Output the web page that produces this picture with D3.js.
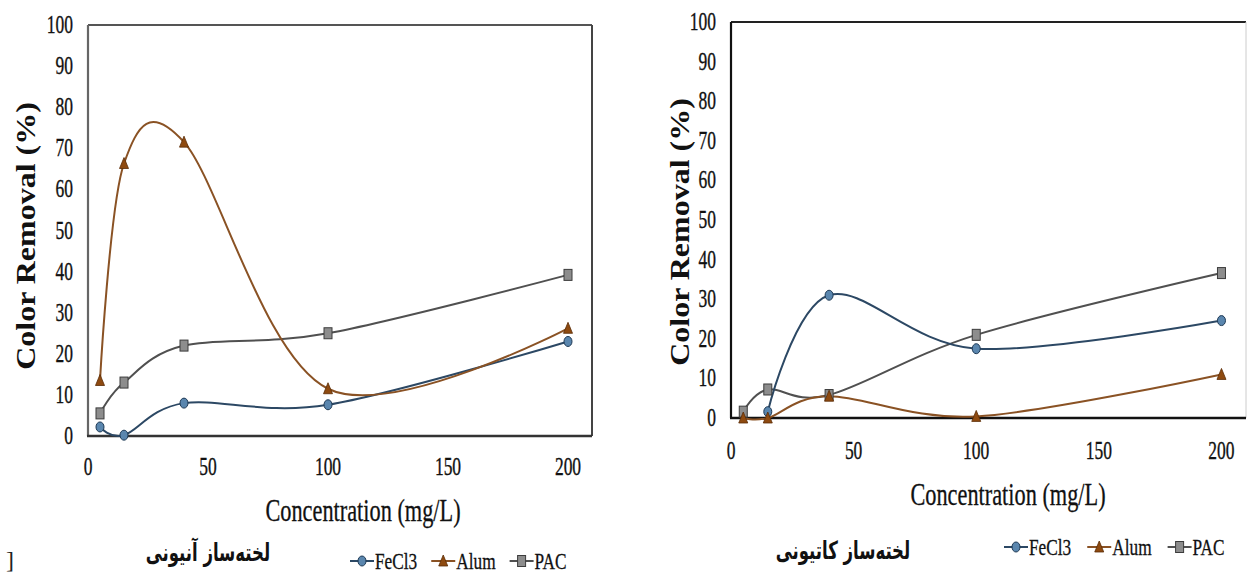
<!DOCTYPE html>
<html><head><meta charset="utf-8">
<script src="https://cdn.jsdelivr.net/npm/d3@7"></script>
<style>
html,body{margin:0;padding:0;background:#fff;}
svg{display:block;}
</style>
</head><body>
<svg id="c" width="1247" height="576"></svg>
<script>
// ---- data ----
const concentrations = [5, 15, 40, 100, 200];
const seriesNames = ["FeCl3", "Alum", "PAC"];
const xTicks = [0, 50, 100, 150, 200];
const yTicks = [0, 10, 20, 30, 40, 50, 60, 70, 80, 90, 100];

// left panel (anionic coagulant aid)
const anionicFeCl3 = [2.2, 0.2, 8.0, 7.6, 23.0];
const anionicAlum  = [13.5, 66.3, 71.5, 11.5, 26.2];
const anionicPAC   = [5.5, 13.0, 22.0, 25.0, 39.2];

// right panel (cationic coagulant aid)
const cationicFeCl3 = [null, 1.6, 31.0, 17.5, 24.6];
const cationicAlum  = [0.0, 0.0, 5.5, 0.4, 11.0];
const cationicPAC   = [1.6, 7.2, 5.8, 21.0, 36.6];

const xTitle = "Concentration (mg/L)";
const yTitle = "Color Removal (%)";
const anionicLabel = "لخته‌ساز آنیونی";
const cationicLabel = "لخته‌ساز کاتیونی";

// ---- styles ----
const styles = {
  FeCl3: {line: "#2c4864", fill: "#5a86ae", stroke: "#1e3954", shape: "circle"},
  Alum:  {line: "#8a5224", fill: "#8e4a10", stroke: "#5a2c06", shape: "triangle"},
  PAC:   {line: "#505050", fill: "#8d8d8d", stroke: "#3c3c3c", shape: "square"}
};
const SX = 0.7; // horizontal squeeze of the original picture
const serif = "'Liberation Serif','Times New Roman',serif";

const svg = d3.select("#c");

function drawMarker(g, shape, cx, cy, st) {
  if (shape === "circle") {
    g.append("ellipse").attr("cx", cx).attr("cy", cy).attr("rx", 4).attr("ry", 5)
      .attr("fill", st.fill).attr("stroke", st.stroke).attr("stroke-width", 1);
  } else if (shape === "triangle") {
    g.append("path").attr("d", `M${cx},${cy-6}L${cx+4.5},${cy+5}L${cx-4.5},${cy+5}Z`)
      .attr("fill", st.fill).attr("stroke", st.stroke).attr("stroke-width", 0.8);
  } else {
    g.append("rect").attr("x", cx-4).attr("y", cy-5.5).attr("width", 8).attr("height", 11)
      .attr("fill", st.fill).attr("stroke", st.stroke).attr("stroke-width", 1);
  }
}

function drawPanel(cfg) {
  const g = svg.append("g");
  const x = d3.scaleLinear().domain([0, 210]).range([cfg.left, cfg.right]);
  const y = d3.scaleLinear().domain([0, 100]).range([cfg.bottom, cfg.top]);

  // frame
  g.append("line").attr("x1", cfg.left).attr("x2", cfg.right).attr("y1", cfg.top).attr("y2", cfg.top)
    .attr("stroke", cfg.frameTop).attr("stroke-width", 2);
  g.append("line").attr("x1", cfg.right).attr("x2", cfg.right).attr("y1", cfg.top).attr("y2", cfg.bottom)
    .attr("stroke", cfg.frameRight).attr("stroke-width", cfg.frameRightW);
  g.append("line").attr("x1", cfg.left).attr("x2", cfg.left).attr("y1", cfg.top).attr("y2", cfg.bottom)
    .attr("stroke", cfg.frameLeft).attr("stroke-width", 2.2);
  g.append("line").attr("x1", cfg.left - 1).attr("x2", cfg.right).attr("y1", cfg.bottom).attr("y2", cfg.bottom)
    .attr("stroke", cfg.frameBottom).attr("stroke-width", 2.5);

  // y tick labels
  yTicks.forEach(t => {
    g.append("text")
      .attr("transform", `translate(${cfg.left - 15},${y(t) + 8}) scale(${SX},1)`)
      .attr("text-anchor", "end").attr("font-family", serif).attr("font-size", 25)
      .attr("fill", "#111").attr("stroke", "#111").attr("stroke-width", 0.35).text(t);
  });
  // x tick labels
  xTicks.forEach(t => {
    g.append("text")
      .attr("transform", `translate(${x(t)},${cfg.xLabY}) scale(${SX},1)`)
      .attr("text-anchor", "middle").attr("font-family", serif).attr("font-size", 25)
      .attr("fill", "#111").attr("stroke", "#111").attr("stroke-width", 0.35).text(t);
  });
  // axis titles
  g.append("text")
    .attr("transform", `translate(${cfg.xTitleX},${cfg.xTitleY}) scale(0.72,1)`)
    .attr("text-anchor", "middle").attr("font-family", serif).attr("font-size", 31)
    .attr("fill", "#111").attr("stroke", "#111").attr("stroke-width", 0.3).text(xTitle);
  g.append("text")
    .attr("transform", `translate(${cfg.yTitleX},${cfg.yTitleY}) scale(0.85,1) rotate(-90)`)
    .attr("text-anchor", "middle").attr("font-family", serif).attr("font-weight", "bold")
    .attr("font-size", 32).attr("fill", "#111").text(yTitle);

  // series
  const line = d3.line()
    .x(d => x(d.c)).y(d => y(d.v))
    .curve(d3.curveCatmullRom.alpha(0));
  const order = ["PAC", "FeCl3", "Alum"];
  order.forEach(name => {
    const vals = cfg.series[name];
    const pts = concentrations.map((c, i) => ({c, v: vals[i]})).filter(d => d.v !== null);
    g.append("path").datum(pts).attr("d", line).attr("fill", "none")
      .attr("stroke", styles[name].line).attr("stroke-width", 2);
  });
  order.forEach(name => {
    const vals = cfg.series[name];
    concentrations.forEach((c, i) => {
      if (vals[i] === null) return;
      drawMarker(g, styles[name].shape, x(c), y(vals[i]), styles[name]);
    });
  });

  // legend
  let lx = cfg.legendX;
  seriesNames.forEach((name, i) => {
    const st = styles[name];
    g.append("line").attr("x1", lx).attr("x2", lx + 24).attr("y1", cfg.legendY).attr("y2", cfg.legendY)
      .attr("stroke", st.line).attr("stroke-width", 2);
    drawMarker(g, st.shape, lx + 12, cfg.legendY, st);
    const t = g.append("text")
      .attr("transform", `translate(${lx + 25},${cfg.legendY + 8}) scale(0.72,1)`)
      .attr("font-family", serif).attr("font-size", 24).attr("fill", "#111")
      .attr("stroke", "#111").attr("stroke-width", 0.3).text(name);
    const w = t.node().getComputedTextLength() * 0.72;
    lx += 25 + w + cfg.legendGap;
  });

  // Persian caption
  g.append("text")
    .attr("transform", `translate(${cfg.capX},${cfg.capY}) scale(0.66,1)`)
    .attr("text-anchor", "middle").attr("direction", "rtl")
    .attr("font-family", "'DejaVu Sans','Noto Sans',sans-serif").attr("font-weight", "bold")
    .attr("font-size", 25).attr("fill", "#111").text(cfg.caption);
}

drawPanel({
  left: 88, right: 592, top: 25, bottom: 436,
  frameTop: "#555", frameRight: "#444", frameRightW: 2, frameLeft: "#666", frameBottom: "#333",
  xLabY: 475, xTitleX: 363, xTitleY: 521, yTitleX: 35, yTitleY: 236,
  series: {FeCl3: anionicFeCl3, Alum: anionicAlum, PAC: anionicPAC},
  legendX: 350, legendY: 561, legendGap: 14,
  caption: anionicLabel, capX: 208, capY: 561
});

drawPanel({
  left: 731, right: 1246, top: 22, bottom: 418,
  frameTop: "#222", frameRight: "#ccc", frameRightW: 1, frameLeft: "#111", frameBottom: "#111",
  xLabY: 459, xTitleX: 1008, xTitleY: 505, yTitleX: 689, yTitleY: 232,
  series: {FeCl3: cationicFeCl3, Alum: cationicAlum, PAC: cationicPAC},
  legendX: 1004, legendY: 547, legendGap: 16,
  caption: cationicLabel, capX: 843, capY: 559
});

// stray bracket at the bottom left of the original figure
svg.append("text").attr("x", 6).attr("y", 568).attr("font-family", serif)
  .attr("font-size", 24).attr("fill", "#222").text("]");
</script>
</body></html>
